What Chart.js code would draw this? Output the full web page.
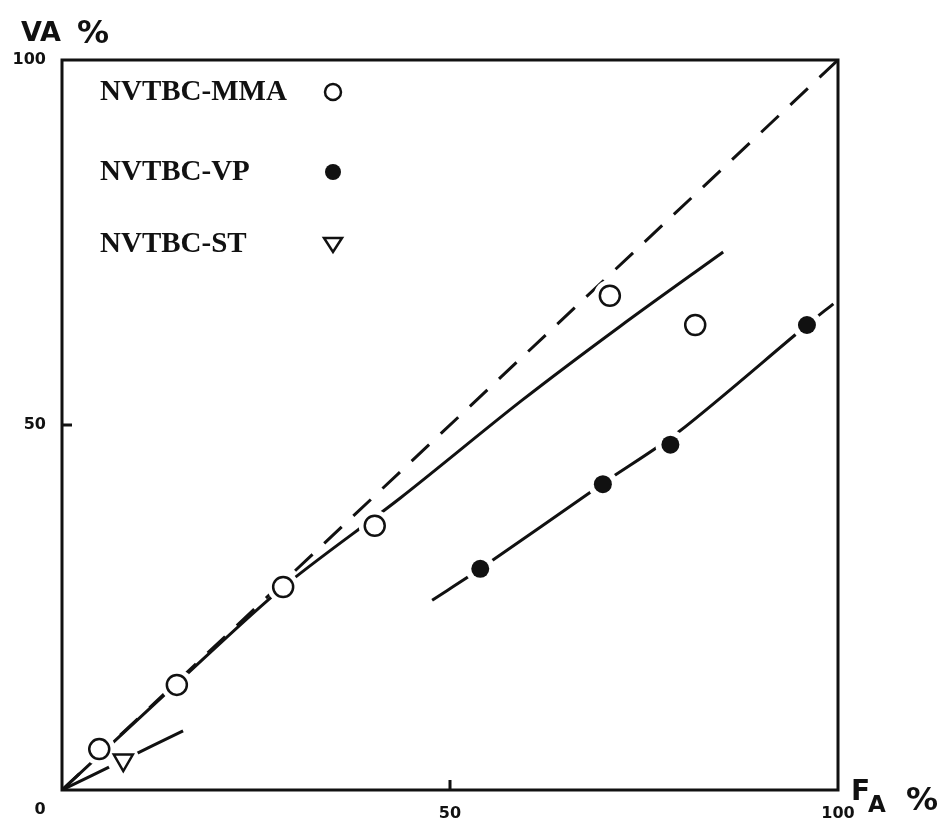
<!DOCTYPE html>
<html>
<head>
<meta charset="utf-8">
<script src="https://cdn.jsdelivr.net/npm/chart.js@4.4.0/dist/chart.umd.min.js"></script>
<style>
  html, body { margin: 0; background: #fff; }
</style>
</head>
<body>
<canvas id="chart" width="944" height="824"></canvas>
<script>
// measured points (FA %, VA %)
const mmaX = [4.8, 14.8, 28.5, 40.3, 70.6, 81.6];
const mmaY = [5.6, 14.4, 27.8, 36.2, 67.7, 63.7];
const vpX = [53.9, 69.7, 78.4, 96.0];
const vpY = [30.3, 41.9, 47.3, 63.7];
const stX = [7.9];
const stY = [4.1];

// drawn curves
const mmaCurveX = [0, 14.8, 28.5, 43.6, 59.3, 71.9, 85.2];
const mmaCurveY = [0, 14.6, 27.8, 40.0, 53.4, 63.5, 73.7];
const vpCurveX = [47.7, 53.9, 69.7, 79.4, 96.0, 99.4];
const vpCurveY = [26.0, 30.3, 42.0, 49.0, 63.7, 66.6];
const stCurveX = [0, 7.9, 15.6];
const stCurveY = [0, 4.1, 8.1];
const diagX = [0, 100];
const diagY = [0, 100];

const xTicks = [0, 50, 100];
const yTicks = [50, 100];

const legendNames = ["NVTBC-MMA", "NVTBC-VP", "NVTBC-ST"];

const pts = (xs, ys) => xs.map((x, i) => ({ x, y: ys[i] }));
const INK = "#111";

function curve(xs, ys, dash) {
  return {
    data: pts(xs, ys),
    showLine: true,
    borderColor: INK,
    borderWidth: 3,
    borderDash: dash || [],
    pointRadius: 0,
    tension: 0.3,
    order: 3
  };
}

function halo(xs, ys, r) {
  return {
    data: pts(xs, ys),
    showLine: false,
    pointRadius: r,
    pointBackgroundColor: "#fff",
    pointBorderWidth: 0,
    order: 1
  };
}

const framePlugin = {
  id: "frame",
  afterDraw(chart) {
    const { ctx, chartArea: a, scales } = chart;
    ctx.save();
    ctx.strokeStyle = INK;
    ctx.lineWidth = 3;
    ctx.strokeRect(a.left, a.top, a.right - a.left, a.bottom - a.top);
    // inward ticks at 50
    const tx = scales.x.getPixelForValue(50);
    const ty = scales.y.getPixelForValue(50);
    ctx.beginPath();
    ctx.moveTo(tx, a.bottom);
    ctx.lineTo(tx, a.bottom - 10);
    ctx.moveTo(a.left, ty);
    ctx.lineTo(a.left + 10, ty);
    ctx.stroke();

    // origin label sits below-left of the corner
    ctx.fillStyle = INK;
    ctx.font = "bold 16px 'DejaVu Sans'";
    ctx.textAlign = "center";
    ctx.textBaseline = "top";
    ctx.fillText("0", scales.x.getPixelForValue(0) - 22, a.bottom + 12);
    ctx.textAlign = "left";

    // axis titles
    ctx.textBaseline = "alphabetic";
    ctx.font = "bold 27px 'DejaVu Sans'";
    ctx.fillText("VA", 21, 41);
    ctx.font = "bold 32px 'DejaVu Sans'";
    ctx.fillText("%", 77, 43);
    ctx.font = "bold 28px 'DejaVu Sans'";
    ctx.fillText("F", 851, 800);
    ctx.font = "bold 23px 'DejaVu Sans'";
    ctx.fillText("A", 868, 812);
    ctx.font = "bold 32px 'DejaVu Sans'";
    ctx.fillText("%", 906, 810);

    // legend
    ctx.font = "bold 29px 'Liberation Serif'";
    ctx.textBaseline = "middle";
    const rows = [92, 172, 244];
    legendNames.forEach((name, i) => ctx.fillText(name, 100, rows[i] + 1));
    const sx = 333;
    ctx.lineWidth = 2.5;
    ctx.beginPath();
    ctx.arc(sx, rows[0], 8, 0, Math.PI * 2);
    ctx.stroke();
    ctx.beginPath();
    ctx.arc(sx, rows[1], 8, 0, Math.PI * 2);
    ctx.fill();
    ctx.beginPath();
    ctx.moveTo(sx - 9, rows[2] - 6);
    ctx.lineTo(sx + 9, rows[2] - 6);
    ctx.lineTo(sx, rows[2] + 8);
    ctx.closePath();
    ctx.stroke();
    ctx.restore();
  }
};

new Chart(document.getElementById("chart"), {
  type: "scatter",
  data: {
    datasets: [
      {
        data: pts(mmaX, mmaY),
        pointStyle: "circle",
        pointRadius: 10,
        pointBackgroundColor: "#fff",
        pointBorderColor: INK,
        pointBorderWidth: 2.5,
        order: 0
      },
      {
        data: pts(vpX, vpY),
        pointStyle: "circle",
        pointRadius: 9,
        pointBackgroundColor: INK,
        pointBorderColor: INK,
        pointBorderWidth: 0,
        order: 0
      },
      {
        data: pts(stX, stY),
        pointStyle: "triangle",
        pointRotation: 180,
        pointRadius: 11,
        pointBackgroundColor: "#fff",
        pointBorderColor: INK,
        pointBorderWidth: 2.5,
        order: 0
      },
      halo(mmaX, mmaY, 16),
      halo(vpX, vpY, 15),
      halo(stX, stY, 16),
      curve(mmaCurveX, mmaCurveY),
      curve(vpCurveX, vpCurveY),
      curve(stCurveX, stCurveY),
      Object.assign(curve(diagX, diagY, [24, 16]), { order: 4, tension: 0 })
    ]
  },
  options: {
    responsive: false,
    animation: false,
    layout: { padding: { top: 60, right: 106, left: 0, bottom: 0 } },
    plugins: { legend: { display: false }, tooltip: { enabled: false } },
    scales: {
      x: {
        type: "linear",
        min: 0,
        max: 100,
        afterBuildTicks: s => { s.ticks = xTicks.map(v => ({ value: v })); },
        afterFit: s => { s.height = 34; },
        grid: { display: false },
        border: { display: false },
        ticks: {
          padding: 6,
          color: INK,
          font: { family: "DejaVu Sans", weight: "bold", size: 16 },
          callback: v => (v === 0 ? "" : String(v))
        }
      },
      y: {
        type: "linear",
        min: 0,
        max: 100,
        afterBuildTicks: s => { s.ticks = yTicks.map(v => ({ value: v })); },
        afterFit: s => { s.width = 62; },
        grid: { display: false },
        border: { display: false },
        ticks: {
          padding: 8,
          color: INK,
          font: { family: "DejaVu Sans", weight: "bold", size: 16 }
        }
      }
    }
  },
  plugins: [framePlugin]
});
</script>
</body>
</html>
